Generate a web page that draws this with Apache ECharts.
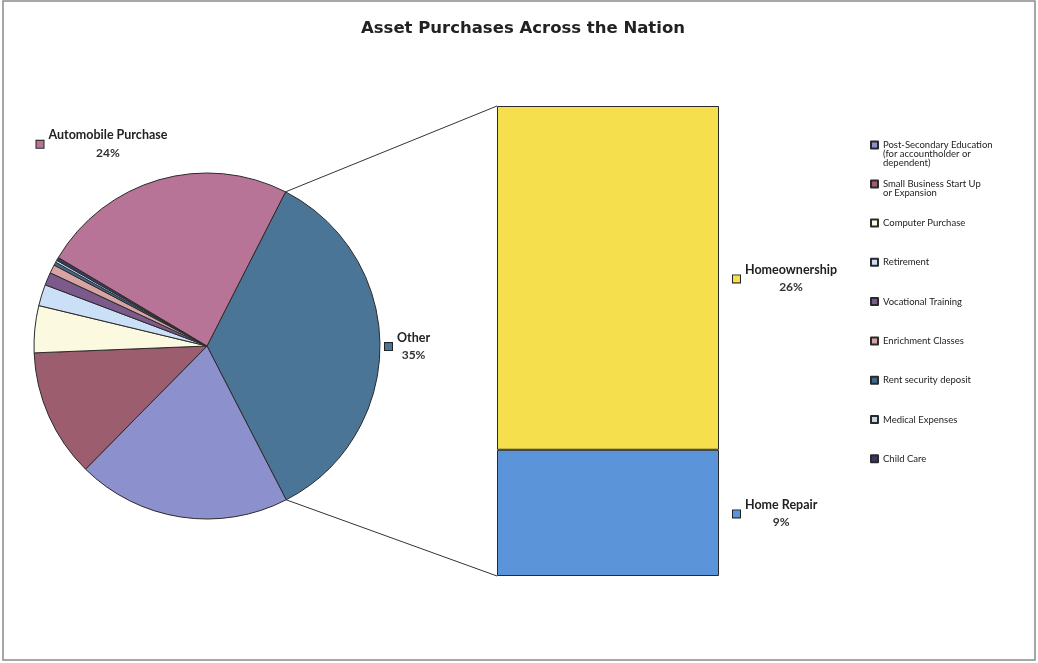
<!DOCTYPE html>
<html lang="en">
<head>
<meta charset="UTF-8">
<title>Asset Purchases Across the Nation</title>
<script src="https://cdn.jsdelivr.net/npm/echarts@6/dist/echarts.min.js"></script>
<style>
    body, html { margin: 0; padding: 0; background: #fff; }
    #chart { width: 1038px; height: 663px; }
</style>
</head>
<body>
<div id="chart"></div>
<script>
    // pie slices, clockwise starting at the upper edge of "Other"
    var pieNames = ['Other', 'Post-Secondary Education (for accountholder or dependent)',
        'Small Business Start Up or Expansion', 'Computer Purchase', 'Retirement',
        'Vocational Training', 'Enrichment Classes', 'Rent security deposit',
        'Medical Expenses', 'Child Care', 'Automobile Purchase'];
    var pieValues = [35, 20, 12, 4.4, 2.0, 1.2, 0.8, 0.3, 0.2, 0.3, 24];
    var pieColors = ['#4b7596', '#8c90cc', '#9c5e6f', '#fbf9e0', '#cbdff7', '#7c5a8b',
        '#d9a3a3', '#3e6a8e', '#c9d7ee', '#39395f', '#b87497'];
    var pieLabelled = ['Other', 'Automobile Purchase'];

    // the "Other" slice broken out as a stacked bar (bottom first)
    var barNames = ['Home Repair', 'Homeownership'];
    var barValues = [9.4, 25.6];
    var barColors = ['#5b94d8', '#f5df4c'];

    // legend entries and their wrapped text
    var legendNames = pieNames.slice(1, 10);
    var legendText = ['Post-Secondary Education\n(for accountholder or\ndependent)',
        'Small Business Start Up\nor Expansion', 'Computer Purchase', 'Retirement',
        'Vocational Training', 'Enrichment Classes', 'Rent security deposit',
        'Medical Expenses', 'Child Care'];

    var FONT = 'Lato, "Open Sans", sans-serif';
    var cx = 207, cy = 346, R = 173, startAngle = 63;
    var bar = { left: 497, top: 106, width: 222, height: 470 };

    function richFor(color) {
        return {
            box: { width: 7, height: 7, backgroundColor: color, borderColor: '#222', borderWidth: 1,
                lineHeight: 19, verticalAlign: 'bottom' },
            name: { fontFamily: FONT, fontWeight: 'bold', fontSize: 12.5, color: '#222', lineHeight: 16,
                verticalAlign: 'top', padding: [0, 0, 0, 5] },
            pct: { fontFamily: FONT, fontWeight: 'bold', fontSize: 12, color: '#333', lineHeight: 10,
                align: 'center', padding: [0, 0, 0, 12] }
        };
    }

    // excel pins the marker to the first text line: pad with blank lines above
    function legendLabel(name) {
        var t = legendText[legendNames.indexOf(name)];
        var extra = t.split('\n').length - 1;
        return new Array(extra + 1).join('\n') + t;
    }

    var chart = echarts.init(document.getElementById('chart'));

    var pieData = pieNames.map(function (n, i) {
        var shown = pieLabelled.indexOf(n) >= 0;
        return {
            name: n,
            value: pieValues[i],
            itemStyle: { color: pieColors[i] },
            label: shown ? { show: true, rich: richFor(pieColors[i]) } : { show: false },
            labelLine: { show: false, length: n === 'Other' ? 0 : 38, length2: 0 }
        };
    });

    var series = [{
        type: 'pie',
        center: [cx, cy],
        radius: R,
        startAngle: startAngle,
        clockwise: true,
        avoidLabelOverlap: false,
        animation: false,
        itemStyle: { borderColor: '#2a2a2a', borderWidth: 1 },
        emphasis: { disabled: true },
        label: {
            position: 'outside',
            formatter: function (p) {
                return '{box|}{name|' + p.name + '}\n{pct|' + Math.round(p.percent) + '%}';
            }
        },
        labelLayout: function (p) {
            if (p.dataIndex === pieNames.length - 1) return { dx: 24 };
        },
        data: pieData
    }];

    barNames.forEach(function (n, i) {
        series.push({
            name: n,
            type: 'bar',
            stack: 'other',
            barWidth: '100%',
            animation: false,
            data: [barValues[i]],
            itemStyle: { color: barColors[i], borderColor: '#2a2a2a', borderWidth: 1 },
            label: {
                show: true,
                position: 'right',
                distance: 14,
                formatter: function (p) {
                    return '{box|}{name|' + p.seriesName + '}\n{pct|' + Math.round(p.value) + '%}';
                },
                rich: richFor(barColors[i])
            }
        });
    });

    // connector lines from the "Other" slice edges to the bar corners
    var total = pieValues.reduce(function (a, b) { return a + b; }, 0);
    var a0 = (90 - startAngle) * Math.PI / 180;
    var a1 = a0 + pieValues[0] / total * 2 * Math.PI;
    function rim(a) { return [cx + R * Math.sin(a), cy - R * Math.cos(a)]; }
    var p0 = rim(a0), p1 = rim(a1);

    var legendBase = {
        orient: 'vertical',
        left: 870,
        padding: 0,
        itemWidth: 7,
        itemHeight: 7,
        icon: 'rect',
        selectedMode: false,
        formatter: legendLabel
    };

    chart.setOption({
        title: {
            text: 'Asset Purchases Across the Nation',
            left: 523,
            textAlign: 'center',
            top: 20,
            padding: 0,
            textStyle: { fontFamily: 'DejaVu Sans', fontWeight: 'bold', fontSize: 16.5, color: '#222' }
        },
        legend: [
            Object.assign({}, legendBase, {
                top: 122,
                itemGap: 2,
                textStyle: { fontFamily: FONT, fontSize: 9.5, color: '#222', lineHeight: 9 },
                data: legendNames.slice(0, 2)
            }),
            Object.assign({}, legendBase, {
                top: 218,
                itemGap: 29.3,
                textStyle: { fontFamily: FONT, fontSize: 9.5, color: '#222', lineHeight: 10 },
                data: legendNames.slice(2)
            })
        ],
        grid: { left: bar.left, top: bar.top, width: bar.width, height: bar.height },
        xAxis: { type: 'category', data: ['Other'], show: false },
        yAxis: { type: 'value', min: 0, max: 35, show: false },
        graphic: [
            { type: 'rect', shape: { x: 3, y: 1, width: 1032, height: 659 },
              style: { fill: null, stroke: '#8a8a8a', lineWidth: 1.5 }, silent: true },
            { type: 'line', shape: { x1: p0[0], y1: p0[1], x2: bar.left, y2: bar.top },
              style: { stroke: '#333', lineWidth: 1 }, silent: true },
            { type: 'line', shape: { x1: p1[0], y1: p1[1], x2: bar.left, y2: bar.top + bar.height },
              style: { stroke: '#333', lineWidth: 1 }, silent: true }
        ],
        series: series
    });
</script>
</body>
</html>
